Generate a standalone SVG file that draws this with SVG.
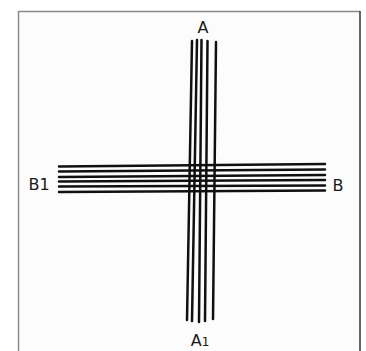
<svg xmlns="http://www.w3.org/2000/svg" width="366" height="351" viewBox="0 0 366 351">
<style>
.ln{stroke:#101010;stroke-width:2.5;stroke-linecap:round;fill:none}
.lb{font-family:"DejaVu Sans","Liberation Sans",sans-serif;font-size:16px;fill:#1a1a1a}
</style>
<rect x="0" y="0" width="366" height="351" fill="#ffffff"/>
<rect x="19" y="11" width="341" height="340" fill="#fcfcfc"/>
<path d="M18.5 351 V11.5 H360" stroke="#8a8a8a" stroke-width="1.5" fill="none"/>
<path d="M360 11 V351" stroke="#333" stroke-width="1.5" fill="none"/>
<g id="connectors">
<g id="bar-BB1">
<line class="ln" x1="59" y1="166.5" x2="325" y2="164"/>
<line class="ln" x1="59" y1="171.5" x2="325" y2="169.5"/>
<line class="ln" x1="59" y1="177" x2="325" y2="175"/>
<line class="ln" x1="59" y1="181.5" x2="325" y2="180"/>
<line class="ln" x1="59" y1="186.5" x2="325" y2="185.5"/>
<line class="ln" x1="59" y1="192" x2="325" y2="190.5"/>
</g>
<g id="bar-AA1">
<line class="ln" x1="192" y1="41" x2="187" y2="320"/>
<line class="ln" x1="197" y1="40" x2="192" y2="321"/>
<line class="ln" x1="201.5" y1="40" x2="199" y2="322"/>
<line class="ln" x1="207.5" y1="41" x2="205" y2="321"/>
<line class="ln" x1="216" y1="42" x2="213" y2="319"/>
</g>
</g>
<g id="A"><text class="lb" x="203" y="33" text-anchor="middle">A</text></g>
<g id="A1"><text class="lb" x="200" y="346" text-anchor="middle">A<tspan font-size="12">1</tspan></text></g>
<g id="B1"><text class="lb" x="39" y="190" text-anchor="middle">B1</text></g>
<g id="B"><text class="lb" x="338" y="191" text-anchor="middle">B</text></g>
</svg>
